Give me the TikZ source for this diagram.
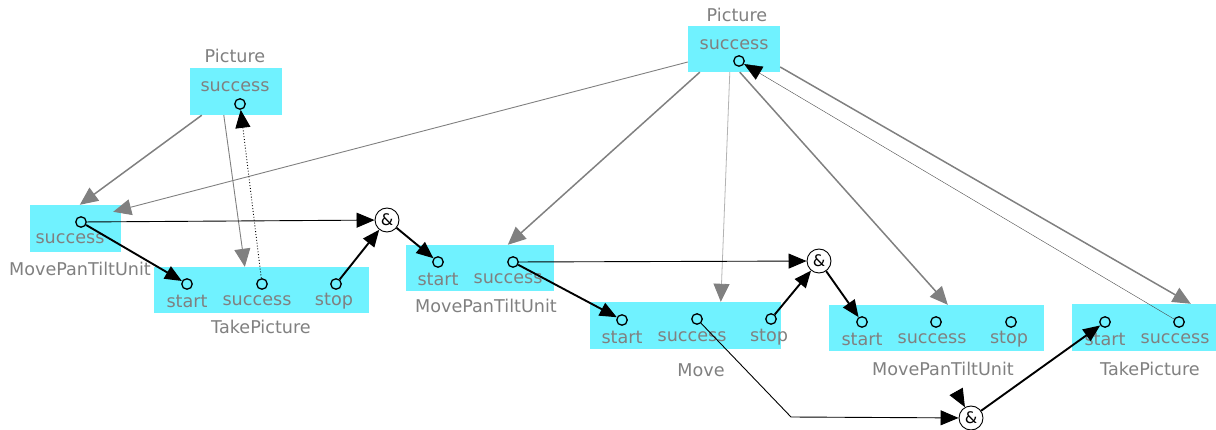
\documentclass[tikz,border=0pt]{standalone}
\usepackage{fontspec}
\setmainfont{DejaVu Sans}
\usetikzlibrary{arrows.meta}
\definecolor{boxc}{RGB}{112,242,255}
\definecolor{txtc}{RGB}{128,128,128}
\begin{document}
\begin{tikzpicture}[x=1pt,y=-1pt,
  box/.style={fill=boxc,draw=none,inner sep=0pt},
  lbl/.style={text=txtc,font=\fontsize{17.6}{20}\selectfont,inner sep=0pt},
  port/.style={circle,draw=black,line width=1.3pt,minimum size=10.5pt,inner sep=0pt},
  andn/.style={circle,draw=black,fill=white,line width=0.9pt,minimum size=24pt,inner sep=0pt,font=\rmfamily\fontsize{16}{16}\selectfont},
  gr/.style={draw=txtc,line width=1.5pt,-{Triangle[length=18pt,width=16pt]}},
  grthin/.style={draw=txtc,line width=0.9pt,-{Triangle[length=18pt,width=16pt]}},
  grlight/.style={draw=txtc!60,line width=0.8pt,-{Triangle[length=18pt,width=16pt,fill=txtc,color=txtc]}},
  bthin/.style={draw=black,line width=0.9pt,-{Triangle[length=18pt,width=15pt]}},
  bthick/.style={draw=black,line width=1.9pt,-{Triangle[length=17pt,width=14pt]}},
]
\useasboundingbox (0,0) rectangle (1216,430);
\begin{scope}
\clip (0,0) rectangle (1216,430);
% boxes
\node[box,minimum width=92pt,minimum height=47pt] (pic1) at (236,91.5) {};
\node[box,minimum width=92pt,minimum height=46pt] (pic2) at (734,49) {};
\node[box,minimum width=91pt,minimum height=47pt] (mp1) at (75.5,228.5) {};
\node[box,minimum width=215pt,minimum height=46pt] (tp1) at (261.5,290) {};
\node[box,minimum width=148pt,minimum height=46pt] (mp2) at (480,268) {};
\node[box,minimum width=191pt,minimum height=47pt] (mv) at (685.5,325.5) {};
\node[box,minimum width=215pt,minimum height=46pt] (mp3) at (936.5,328) {};
\node[box,minimum width=158pt,minimum height=47pt] (tp2) at (1151,327.5) {};
\end{scope}
% texts
\node[lbl] (t1) at (235,56) {Picture};
\node[lbl] (t2) at (235,87) {success};
\node[lbl] (t3) at (737,15) {Picture};
\node[lbl] (t4) at (734,45) {success};
\node[lbl] (t5) at (70,239) {success};
\node[lbl] (t6) at (80,269) {MovePanTiltUnit};
\node[lbl] (t7) at (187,301) {start};
\node[lbl] (t8) at (257,301) {success};
\node[lbl] (t9) at (334,301) {stop};
\node[lbl] (t10) at (261,327) {TakePicture};
\node[lbl] (t11) at (438,279) {start};
\node[lbl] (t12) at (508,279) {success};
\node[lbl] (t13) at (486,306) {MovePanTiltUnit};
\node[lbl] (t14) at (622,337) {start};
\node[lbl] (t15) at (692,337) {success};
\node[lbl] (t16) at (769,337) {stop};
\node[lbl] (t17) at (701,370) {Move};
\node[lbl] (t18) at (862,339) {start};
\node[lbl] (t19) at (932,339) {success};
\node[lbl] (t20) at (1009,339) {stop};
\node[lbl] (t21) at (943,369) {MovePanTiltUnit};
\node[lbl] (t22) at (1105,339) {start};
\node[lbl] (t23) at (1175,339) {success};
\node[lbl] (t24) at (1150,369) {TakePicture};
% ports
\node[port] (p1s) at (240,104) {};
\node[port] (p2s) at (739,61) {};
\node[port] (m1s) at (81,222) {};
\node[port] (tp1a) at (187,284) {};
\node[port] (tp1s) at (262,284) {};
\node[port] (tp1z) at (336,284) {};
\node[port] (m2a) at (438,262) {};
\node[port] (m2s) at (513,262) {};
\node[port] (mva) at (622,320) {};
\node[port] (mvs) at (697,319) {};
\node[port] (mvz) at (771,319) {};
\node[port] (m3a) at (862,322) {};
\node[port] (m3s) at (936,322) {};
\node[port] (m3z) at (1011,322) {};
\node[port] (tp2a) at (1105,322) {};
\node[port] (tp2s) at (1179,322) {};
% and nodes
\node[andn] (and1) at (387,220) {\&};
\node[andn] (and2) at (819,261) {\&};
\node[andn] (and3) at (971,418) {\&};
\coordinate (bend) at (791,417);
\coordinate (dang) at (957,393);
% gray edges
\draw[gr] ([xshift=12pt]pic1.south west) -- ([xshift=50pt]mp1.north west);
\draw[grthin] ([xshift=34pt]pic1.south west) -- ([xshift=91pt]tp1.north west);
\draw[grthin] ([yshift=-13pt]pic2.west) -- ([xshift=-8pt,yshift=-7pt]mp1.north east);
\draw[gr] ([xshift=12pt]pic2.south west) -- ([xshift=102pt]mp2.north west);
\draw[grlight] ([xshift=42pt]pic2.south west) -- ([xshift=131pt]mv.north west);
\draw[gr] ([xshift=52pt]pic2.south west) -- ([xshift=119pt]mp3.north west);
\draw[gr] ([yshift=-18pt]pic2.east) -- ([xshift=119pt]tp2.north west);
% black edges
\draw[bthin] (m1s) -- (and1);
\draw[bthick] (m1s) -- (tp1a);
\draw[bthick] (tp1z) -- (and1);
\draw[bthick] (and1) -- (m2a);
\draw[draw=black,line width=0.9pt,dotted,-{Triangle[length=18pt,width=15pt]}] (tp1s) -- (p1s);
\draw[bthin] (m2s) -- (and2);
\draw[bthick] (m2s) -- (mva);
\draw[bthick] (mvz) -- (and2);
\draw[bthick] (and2) -- (m3a);
\draw[bthin] (mvs) -- (bend) -- (and3);
\draw[bthin] (dang) -- (and3);
\draw[bthick] (and3) -- (tp2a);
\draw[draw=black!70,line width=0.4pt,-{Triangle[length=18pt,width=15pt,color=black]}] (tp2s) -- (p2s);
\end{tikzpicture}
\end{document}
